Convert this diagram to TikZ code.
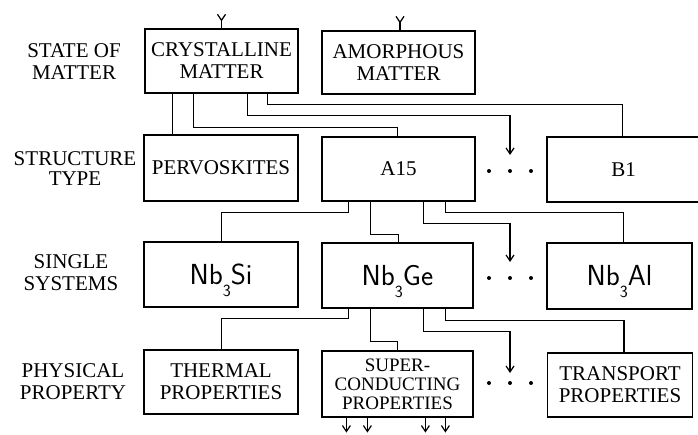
\documentclass[tikz,border=0pt]{standalone}
\usepackage{fontspec}
\setmainfont{Liberation Serif}
\usetikzlibrary{arrows.meta}
\tikzset{
  box/.style={draw, line width=1.2pt, inner sep=0pt, align=center, font=\fontsize{21}{22}\selectfont},
  chem/.style={box, font=\sffamily\fontsize{29}{30}\selectfont},
  lbl/.style={align=center, inner sep=0pt, font=\fontsize{21}{22}\selectfont},
  link/.style={line width=1.2pt},
  arr/.style={line width=1.2pt, -{Straight Barb[length=6pt,width=8pt]}},
  dotpt/.style={circle, fill, inner sep=0pt, minimum size=4pt},
}
\newcommand{\subthree}{\raisebox{-12pt}[0pt][0pt]{\fontsize{17}{17}\selectfont 3}}
\begin{document}
\begin{tikzpicture}[x=1pt,y=-1pt]
\useasboundingbox[fill=white] (0,0) rectangle (698,434);

% left labels
\node[lbl] (l1) at (74,61.5) {STATE OF\\MATTER};
\node[lbl, font=\fontsize{21}{19.5}\selectfont] (l2) at (75,168.5) {STRUCTURE\\TYPE};
\node[lbl] (l3) at (71,272.5) {SINGLE\\SYSTEMS};
\node[lbl] (l4) at (73,381.5) {PHYSICAL\\PROPERTY};

% row 1
\node[box, minimum width=153pt, minimum height=64pt] (cm) at (221.5,61) {CRYSTALLINE\\MATTER};
\node[box, minimum width=153pt, minimum height=63pt] (am) at (398.5,62.5) {AMORPHOUS\\MATTER};
% row 2
\node[box, minimum width=154pt, minimum height=66pt] (pe) at (221,168) {PERVOSKITES};
\node[box, minimum width=153pt, minimum height=64pt] (a15) at (398.5,169) {A15};
\node[box, minimum width=153pt, minimum height=65pt] (b1) at (623.5,169.5) {B1};
% row 3
\node[chem, minimum width=154pt, minimum height=65pt] (nbsi) at (221,274.5) {Nb\subthree Si};
\node[chem, minimum width=151pt, minimum height=65pt] (nbge) at (397.5,275.5) {Nb\subthree Ge};
\node[chem, minimum width=145pt, minimum height=66pt] (nbal) at (619.5,276) {Nb\subthree Al};
% row 4
\node[box, minimum width=154pt, minimum height=64pt] (th) at (221,382) {THERMAL\\PROPERTIES};
\node[box, minimum width=151pt, minimum height=66pt, font=\fontsize{19}{19}\selectfont] (sc) at (397.5,384) {SUPER-\\CONDUCTING\\PROPERTIES};
\node[box, minimum width=145pt, minimum height=64pt] (tr) at (620,385) {TRANSPORT\\PROPERTIES};

% dots
\foreach \r/\yy in {1/171,2/278,3/383}{
  \node[dotpt] (d\r l) at (489,\yy) {};
  \node[dotpt] (d\r) at (510,\yy) {};
  \node[dotpt] (d\r r) at (531,\yy) {};
}

% incoming arrows at top
\draw[arr] ([yshift=8pt]cm.north) -- ([yshift=7pt]cm.north);
\draw[link] ([yshift=7pt]cm.north) -- (cm.north);
\draw[arr] ([xshift=1.5pt,yshift=8pt]am.north) -- ([xshift=1.5pt,yshift=7pt]am.north);
\draw[link] ([xshift=1.5pt,yshift=7pt]am.north) -- ([xshift=1.5pt]am.north);

% crystalline -> structure types
\draw[link] ([xshift=28pt]cm.south west) coordinate (c1) -- (c1 |- pe.north);
\draw[link] ([xshift=49pt]cm.south west) -- ++(0,34) -| ([xshift=76pt]a15.north west);
\draw[arr] ([xshift=103pt]cm.south west) -- ++(0,22) -| ([yshift=16pt]d1.center);
\draw[link] ([xshift=123pt]cm.south west) -- ++(0,11) -| ([xshift=76pt]b1.north west);

% A15 -> single systems
\draw[link] ([xshift=27pt]a15.south west) -- ++(0,11) -| ([xshift=78pt]nbsi.north west);
\draw[link] ([xshift=49pt]a15.south west) -- ++(0,33) -| ([xshift=77pt]nbge.north west);
\draw[arr] ([xshift=102pt]a15.south west) -- ++(0,22) -| ([yshift=16pt]d2.center);
\draw[link] ([xshift=124pt]a15.south west) -- ++(0,11) -| ([xshift=77pt]nbal.north west);

% Nb3Ge -> physical properties
\draw[link] ([xshift=27pt]nbge.south west) -- ++(0,10) -| ([xshift=78pt]th.north west);
\draw[link] ([xshift=49pt]nbge.south west) -- ++(0,33) -| ([xshift=76pt]sc.north west);
\draw[arr] ([xshift=102pt]nbge.south west) -- ++(0,23) -| ([yshift=10pt]d3.center);
\draw[link] ([xshift=124pt]nbge.south west) -- ++(0,12) -| ([xshift=77pt]tr.north west);

% outgoing arrows from superconducting properties
\foreach \dx in {25,46,104,124}{
  \draw[arr] ([xshift=\dx pt]sc.south west) -- ++(0,15);
}
\end{tikzpicture}
\end{document}
